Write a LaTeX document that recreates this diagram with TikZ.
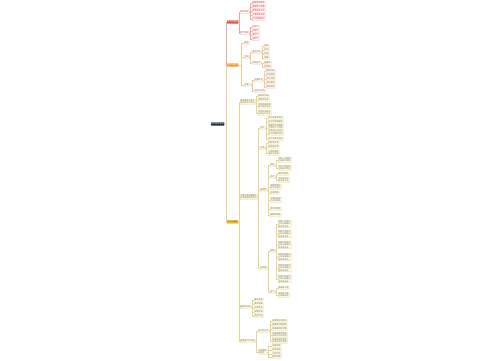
\documentclass[tikz,border=0pt]{standalone}
\usepackage{fontspec}
\newfontfamily\cjk{Noto Sans CJK SC}
\definecolor{rootc}{HTML}{1F2A44}
\definecolor{redc}{HTML}{E0504D}
\definecolor{redl}{HTML}{F2A6A4}
\definecolor{redt}{HTML}{C04040}
\definecolor{orgc}{HTML}{F29A2E}
\definecolor{orgl}{HTML}{F5C995}
\definecolor{orgp}{HTML}{FFF7EC}
\definecolor{yelc}{HTML}{F3C416}
\definecolor{yell}{HTML}{E6D68C}
\definecolor{yelp}{HTML}{FFFBE6}
\definecolor{txtg}{HTML}{707070}
\begin{document}
\begin{tikzpicture}[x=1pt,y=-1pt,
  every node/.style={anchor=west, inner xsep=.6pt, inner ysep=.5pt,
    font=\cjk\fontsize{2}{2.4}\selectfont, align=left, line width=.25pt, rounded corners=.3pt},
  rootn/.style={fill=rootc, text=white, inner ysep=.7pt},
  bA/.style={fill=redc, text=white, inner ysep=.7pt},
  bB/.style={fill=orgc, text=white, inner ysep=.7pt},
  bC/.style={fill=yelc, text=black!70, inner ysep=.7pt},
  lA/.style={draw=redl, fill=white, text=redt},
  lB/.style={draw=orgl, fill=orgp, text=txtg},
  lC/.style={draw=yell, fill=yelp, text=txtg},
  eA/.style={draw=redl, line width=.35pt},
  eB/.style={draw=orgl, line width=.35pt},
  eC/.style={draw=yell, line width=.35pt}]
\fill[white] (0,0) rectangle (500,360);
\useasboundingbox (0,0) rectangle (500,360);

% root
\node[rootn] (R) at (211,124) {知识框架总结};

% ---------- branch A
\node[bA] (A) at (227,22) {学习的目标};
\node[lA] (A1) at (240,12) {知识目标};
\node[lA] (A11) at (252,3) {理解基本概念};
\node[lA] (A12) at (252,7) {掌握核心原理};
\node[lA] (A13) at (252,11) {熟悉相关公式};
\node[lA] (A14) at (252,15) {了解发展历程};
\node[lA] (A15) at (252,19) {识记重要结论};
\node[lA] (A2) at (240,33) {能力目标};
\node[lA] (A21) at (252,27) {分析力};
\node[lA] (A22) at (252,31) {归纳力};
\node[lA] (A23) at (252,35) {表达力};
\node[lA] (A24) at (252,39) {应用力};

% ---------- branch B
\node[bB] (B) at (227,65) {重点与难点};
\node[lB] (B1) at (244,43) {概述};
\node[lB] (B2) at (244,57) {方法};
\node[lB] (B2a) at (252,52) {基本方法};
\node[lB] (B2a1) at (264,46) {观察};
\node[lB] (B2a2) at (264,50) {比较};
\node[lB] (B2a3) at (264,54) {归纳};
\node[lB] (B2a4) at (264,58) {演绎};
\node[lB] (B2b) at (252,63) {常用技巧};
\node[lB] (B2b1) at (264,63) {画图法};
\node[lB] (B2b2) at (264,67) {列表法};
\node[lB] (B3) at (244,85) {步骤一};
\node[lB] (B3a) at (254,80) {主要环节};
\node[lB] (B3a1) at (266,71) {提出问题};
\node[lB] (B3a2) at (266,75) {作出假设};
\node[lB] (B3a3) at (266,79) {设计方案};
\node[lB] (B3a4) at (266,83) {进行实验};
\node[lB] (B3a5) at (266,87) {得出结论};
\node[lB] (B3b) at (254,91) {评估与交流};

% ---------- branch C
\node[bC] (C) at (227,222) {知识点整理};
\node[lC] (C1) at (240,102) {基本概念与定义\\相关性质与特点};
\node[lC] (C11) at (258,96) {概念的内涵};
\node[lC] (C12) at (258,100) {概念的外延};
\node[lC] (C13) at (258,106) {性质的具体表\\现与相关应用};
\node[lC] (C14) at (258,113) {特点的归纳与\\比较分析方法};

\node[lC] (C2) at (240,197) {主要内容详细解析\\以及典型例题分析};
\node[lC] (C2a) at (260,128) {定义};
\node[lC] (C2a1) at (268,118) {定义的基本表述};
\node[lC] (C2a2) at (268,122) {定义中的关键词};
\node[lC] (C2a3) at (268,128) {理解定义时需要\\注意的几个问题\\及其常见的误区};
\node[lC] (C2a4) at (268,134) {定义的等价形式};
\node[lC] (C2a5) at (268,139) {定义的实际应用};
\node[lC] (C2b) at (260,148) {分类};
\node[lC] (C2b1) at (268,143) {按性质分类};
\node[lC] (C2b2) at (268,147) {按用途分类};
\node[lC] (C2b3) at (268,153) {分类标准的\\选择与依据};
\node[lC] (C2c) at (260,190) {规律性};
\node[lC] (c1) at (270,165) {特征};
\node[lC] (c11) at (278,160) {特征一的描述\\与具体的表现};
\node[lC] (c12) at (278,168) {特征二的描述\\与具体的表现};
\node[lC] (c2) at (270,177) {条件};
\node[lC] (c21) at (278,174) {成立的条件};
\node[lC] (c22) at (278,180) {不成立时的\\情况及分析};
\node[lC] (c3) at (270,187) {规律的表达\\形式与意义};
\node[lC] (c4) at (270,193) {适用范围};
\node[lC] (c5) at (270,200) {与其他规律\\之间的联系};
\node[lC] (c6) at (270,209) {常见的题型};
\node[lC] (c7) at (270,215) {解题的思路};
\node[lC] (C2d) at (260,268) {应用题};
\node[lC] (d1) at (270,251) {例题};
\node[lC] (d11) at (278,224) {例题一的题干\\分析与解答过\\程及其总结};
\node[lC] (d12) at (278,234) {例题二的题干\\分析与解答过\\程及其总结};
\node[lC] (d13) at (278,245) {例题三的题干\\分析与解答过\\程及其总结};
\node[lC] (d14) at (278,257) {例题四的题干\\分析与解答过\\程及其总结};
\node[lC] (d15) at (278,268) {例题五的题干\\分析与解答过\\程及其总结};
\node[lC] (d16) at (278,279) {例题六的题干\\分析与解答过\\程及其总结};
\node[lC] (d2) at (270,292) {练习};
\node[lC] (d21) at (278,288) {基础练习题};
\node[lC] (d22) at (278,295) {提高练习题\\与拓展训练};

\node[lC] (C3) at (240,307) {易错点归纳};
\node[lC] (C31) at (254,300) {概念混淆};
\node[lC] (C32) at (254,304) {条件遗漏};
\node[lC] (C33) at (254,308) {计算失误};
\node[lC] (C34) at (254,312) {审题不清};
\node[lC] (C35) at (254,316) {表述不当};

\node[lC] (C4) at (240,341) {课后复习与巩固};
\node[lC] (C4a) at (258,331) {复习的方法};
\node[lC] (C4a1) at (272,321) {阅读教材与笔记};
\node[lC] (C4a2) at (272,325) {整理知识结构图};
\node[lC] (C4a3) at (272,329) {完成课后练习题};
\node[lC] (C4a4) at (272,335) {总结错题的原因\\并进行订正反思};
\node[lC] (C4a5) at (272,341) {查漏补缺并及时\\向老师同学请教};
\node[lC] (C4b) at (258,352) {巩固提高\\的途径};
\node[lC] (C4b1) at (272,346) {专题训练};
\node[lC] (C4b2) at (272,350) {综合测试};
\node[lC] (C4b3) at (272,354) {小组讨论};
\node[lC] (C4b4) at (272,357) {课外阅读};

% ---------- connectors
\draw[eA] (R.east) -- ++(1.4,0) |- (A.west);
\draw[eB] (R.east) -- ++(1.4,0) |- (B.west);
\draw[eC] (R.east) -- ++(1.4,0) |- (C.west);

\foreach \c in {A1,A2} \draw[eA] (A.east) -- ++(.8,0) |- (\c.west);
\foreach \c in {A11,A12,A13,A14,A15} \draw[eA] (A1.east) -- ++(.8,0) |- (\c.west);
\foreach \c in {A21,A22,A23,A24} \draw[eA] (A2.east) -- ++(.8,0) |- (\c.west);

\foreach \c in {B1,B2,B3} \draw[eB] (B.east) -- ++(2.5,0) |- (\c.west);
\foreach \c in {B2a,B2b} \draw[eB] (B2.east) -- ++(1.2,0) |- (\c.west);
\foreach \c in {B2a1,B2a2,B2a3,B2a4} \draw[eB] (B2a.east) -- ++(1.2,0) |- (\c.west);
\foreach \c in {B2b1,B2b2} \draw[eB] (B2b.east) -- ++(1.2,0) |- (\c.west);
\foreach \c in {B3a,B3b} \draw[eB] (B3.east) -- ++(1.2,0) |- (\c.west);
\foreach \c in {B3a1,B3a2,B3a3,B3a4,B3a5} \draw[eB] (B3a.east) -- ++(1.2,0) |- (\c.west);

\foreach \c in {C1,C2,C3,C4} \draw[eC] (C.east) -- ++(1.2,0) |- (\c.west);
\foreach \c in {C11,C12,C13,C14} \draw[eC] (C1.east) -- ++(1.2,0) |- (\c.west);
\foreach \c in {C2a,C2b,C2c,C2d} \draw[eC] (C2.east) -- ++(1.2,0) |- (\c.west);
\foreach \c in {C2a1,C2a2,C2a3,C2a4,C2a5} \draw[eC] (C2a.east) -- ++(1.2,0) |- (\c.west);
\foreach \c in {C2b1,C2b2,C2b3} \draw[eC] (C2b.east) -- ++(1.2,0) |- (\c.west);
\foreach \c in {c1,c2,c3,c4,c5,c6,c7} \draw[eC] (C2c.east) -- ++(1.2,0) |- (\c.west);
\foreach \c in {c11,c12} \draw[eC] (c1.east) -- ++(1.2,0) |- (\c.west);
\foreach \c in {c21,c22} \draw[eC] (c2.east) -- ++(1.2,0) |- (\c.west);
\foreach \c in {d1,d2} \draw[eC] (C2d.east) -- ++(1.2,0) |- (\c.west);
\foreach \c in {d11,d12,d13,d14,d15,d16} \draw[eC] (d1.east) -- ++(1.2,0) |- (\c.west);
\foreach \c in {d21,d22} \draw[eC] (d2.east) -- ++(1.2,0) |- (\c.west);
\foreach \c in {C31,C32,C33,C34,C35} \draw[eC] (C3.east) -- ++(1.2,0) |- (\c.west);
\foreach \c in {C4a,C4b} \draw[eC] (C4.east) -- ++(1.2,0) |- (\c.west);
\foreach \c in {C4a1,C4a2,C4a3,C4a4,C4a5} \draw[eC] (C4a.east) -- ++(1.2,0) |- (\c.west);
\foreach \c in {C4b1,C4b2,C4b3,C4b4} \draw[eC] (C4b.east) -- ++(1.2,0) |- (\c.west);
\end{tikzpicture}
\end{document}
